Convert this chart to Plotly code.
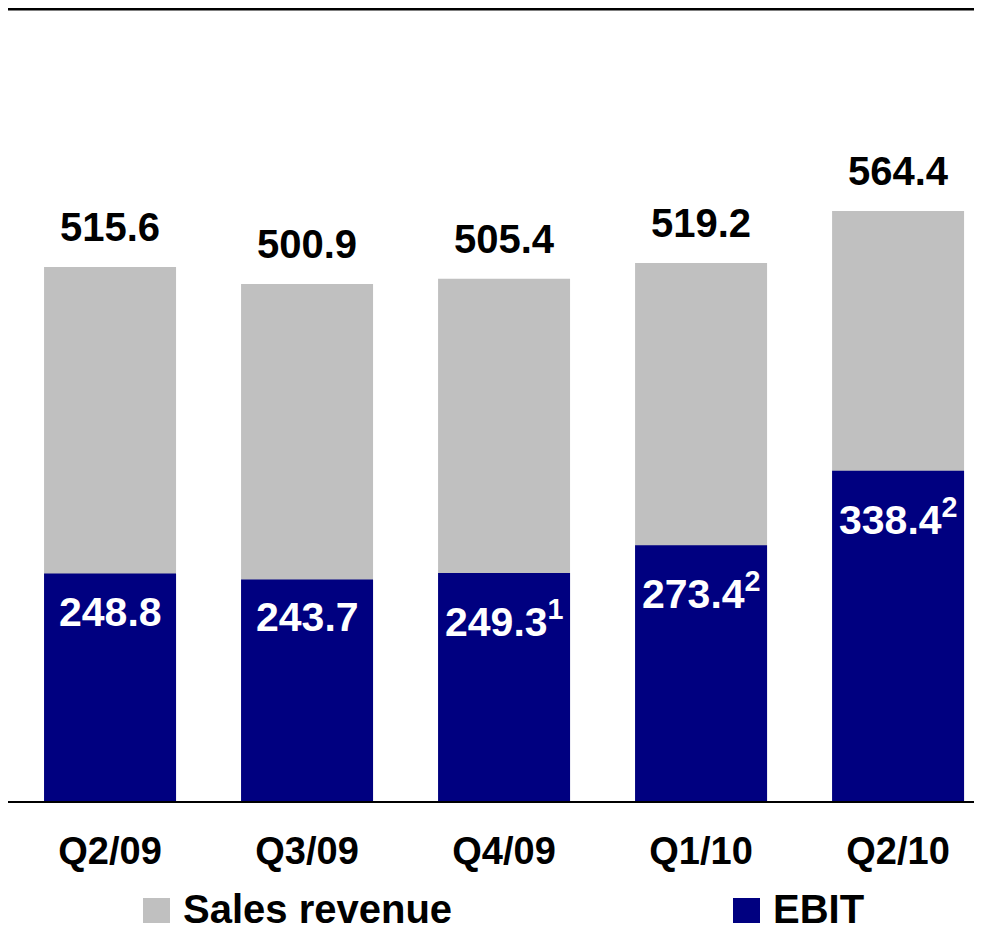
import plotly.graph_objects as go

# dati
quarters = ["Q2/09", "Q3/09", "Q4/09", "Q1/10", "Q2/10"]
sales = [515.6, 500.9, 505.4, 519.2, 564.4]
ebit = [248.8, 243.7, 249.3, 273.4, 338.4]
ebit_notes = ["", "", "1", "2", "2"]

# la pagina ha 8px di margine del body: figura 974x917
OFF = 8
W, H = 982 - OFF, 925 - OFF
M_T, M_B = 0, 123
FONT = "Liberation Sans, Arial, sans-serif"
GREY = "#C0C0C0"
NAVY = "#000080"


def py(pix):
    # pixel verticale della pagina -> coordinata paper
    return (H - M_B - (pix - OFF)) / (H - M_T - M_B)


def px(pix):
    return (pix - OFF) / W


fig = go.Figure()

fig.add_trace(go.Bar(x=quarters, y=sales, name="Sales revenue",
                     marker=dict(color=GREY, line=dict(width=0)), width=0.67))
fig.add_trace(go.Bar(x=quarters, y=ebit, name="EBIT",
                     marker=dict(color=NAVY, line=dict(width=0)), width=0.67))

# etichette valori
for q, s in zip(quarters, sales):
    fig.add_annotation(x=q, y=s, text=f"{s:.1f}", showarrow=False,
                       yanchor="bottom", yshift=16,
                       font=dict(family=FONT, size=40, color="black", weight="bold"))

for q, e, n in zip(quarters, ebit, ebit_notes):
    txt = f"{e:.1f}" + (f"<sup>{n}</sup>" if n else "")
    fig.add_annotation(x=q, y=e, text=txt, showarrow=False,
                       yanchor="top", yshift=-13 if not n else -18,
                       font=dict(family=FONT, size=41, color="white", weight="bold"))

# linee orizzontali
fig.add_shape(type="line", xref="paper", yref="paper", x0=0, x1=1,
              y0=py(9), y1=py(9), line=dict(color="black", width=3))
fig.add_shape(type="line", xref="paper", yref="paper", x0=0, x1=1, y0=0, y1=0,
              line=dict(color="black", width=2))

# legenda manuale
legend = [("Sales revenue", GREY, 143), ("EBIT", NAVY, 733)]
for name, col, x0 in legend:
    fig.add_shape(type="rect", xref="paper", yref="paper",
                  x0=px(x0), x1=px(x0 + 27), y0=py(923), y1=py(898),
                  fillcolor=col, line=dict(width=0))
    fig.add_annotation(xref="paper", yref="paper", x=px(x0 + 38), y=py(909),
                       xanchor="left", yanchor="middle", text=name, showarrow=False,
                       font=dict(family=FONT, size=40, color="black", weight="bold"))

fig.update_layout(
    width=W, height=H,
    margin=dict(l=0, r=0, t=M_T, b=M_B),
    barmode="overlay",
    showlegend=False,
    plot_bgcolor="white",
    paper_bgcolor="white",
    xaxis=dict(range=[-0.518, 4.426], showgrid=False, showline=False, zeroline=False,
               ticks="", ticklabelstandoff=23,
               tickfont=dict(family=FONT, size=38, color="black", weight="bold")),
    yaxis=dict(range=[50, 741.1], visible=False),
)

fig.write_html("out.html")
